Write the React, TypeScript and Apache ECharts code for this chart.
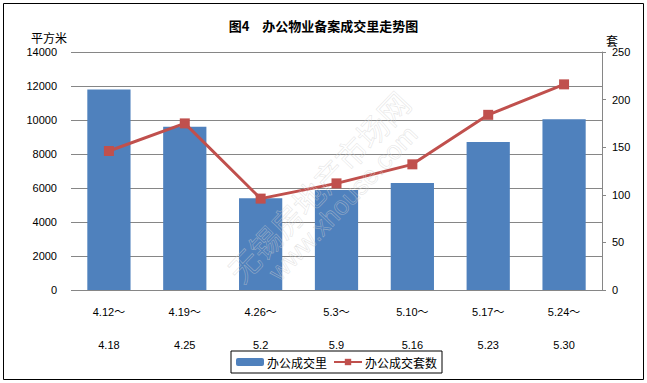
import React, { useEffect, useRef } from "react";
import * as echarts from "echarts";

const categories = ["4.12～\n4.18", "4.19～\n4.25", "4.26～\n5.2", "5.3～\n5.9", "5.10～\n5.16", "5.17～\n5.23", "5.24～\n5.30"];
const areaValues = [11800, 9600, 5400, 5880, 6300, 8700, 10050];
const countValues = [146, 175, 96, 112, 132, 184, 216];
const leftTicks = { min: 0, max: 14000, interval: 2000 };
const rightTicks = { min: 0, max: 250, interval: 50 };

const CJK = '"Noto Sans CJK SC", "Noto Sans", sans-serif';
const NUM = '"Liberation Sans", "Noto Sans CJK SC", sans-serif';

export default function App() {
  const ref = useRef<HTMLDivElement>(null);
  useEffect(() => {
    if (!ref.current) return;
    const chart = echarts.init(ref.current, null, { renderer: "svg" });
    chart.setOption({
      animation: false,
      backgroundColor: "#fff",
      title: {
        text: "图4　办公物业备案成交里走势图",
        left: "center",
        top: 14,
        textStyle: { fontFamily: CJK, fontSize: 13, fontWeight: "bold", color: "#000" },
      },
      grid: { left: 71, right: 45, top: 52, bottom: 93 },
      legend: {
        left: 231,
        top: 351,
        padding: [5, 5],
        itemGap: 6,
        itemWidth: 28,
        itemHeight: 8,
        borderColor: "#000",
        borderWidth: 1,
        textStyle: { fontFamily: CJK, fontSize: 12, color: "#000", padding: [0, 0, 0, -2] },
        data: ["办公成交里", "办公成交套数"],
      },
      graphic: [
        { type: "rect", shape: { x: 3.5, y: 3.5, width: 640, height: 376 }, style: { fill: "none", stroke: "#000", lineWidth: 1 }, silent: true, z: 100 },
        { type: "text", x: 49, y: 37, style: { text: "平方米", fontFamily: CJK, fontSize: 12, fill: "#000", align: "center", verticalAlign: "middle" } },
        { type: "text", x: 612, y: 40, style: { text: "套", fontFamily: CJK, fontSize: 12, fill: "#000", align: "center", verticalAlign: "middle" } },
        { type: "text", x: 318, y: 186, rotation: 0.81, z: 50, silent: true, style: { text: "无锡房地产市场网", fontFamily: CJK, fontSize: 31, fill: "transparent", stroke: "#d0d0d0", lineWidth: 0.6, opacity: 0.55, align: "center", verticalAlign: "middle" } },
        { type: "text", x: 343, y: 203, rotation: 0.81, z: 50, silent: true, style: { text: "www.xhouse.com", fontFamily: NUM, fontSize: 26, fill: "transparent", stroke: "#d0d0d0", lineWidth: 0.6, opacity: 0.55, align: "center", verticalAlign: "middle" } },
      ],
      xAxis: {
        type: "category",
        data: categories,
        axisLine: { show: false },
        axisTick: { show: false },
        axisLabel: { interval: 0, margin: 5, lineHeight: 33, fontFamily: NUM, fontSize: 11, color: "#000" },
      },
      yAxis: [
        {
          type: "value",
          min: leftTicks.min,
          max: leftTicks.max,
          interval: leftTicks.interval,
          axisLine: { show: false },
          axisTick: { show: false },
          axisLabel: { margin: 14, fontFamily: NUM, fontSize: 11, color: "#000", formatter: (v: number) => String(v) },
          splitLine: { show: true, lineStyle: { color: "#868686", width: 1 } },
        },
        {
          type: "value",
          position: "right",
          min: rightTicks.min,
          max: rightTicks.max,
          interval: rightTicks.interval,
          axisLine: { show: true, lineStyle: { color: "#868686" } },
          axisTick: { show: true, inside: false, length: 4, lineStyle: { color: "#868686" } },
          axisLabel: { margin: 10, fontFamily: NUM, fontSize: 11, color: "#000", formatter: (v: number) => String(v) },
          splitLine: { show: false },
        },
      ],
      series: [
        {
          name: "办公成交里",
          type: "bar",
          data: areaValues,
          barWidth: "57%",
          itemStyle: { color: "#4F81BD" },
          yAxisIndex: 0,
        },
        {
          name: "办公成交套数",
          type: "line",
          data: countValues,
          yAxisIndex: 1,
          symbol: "rect",
          symbolSize: 10,
          lineStyle: { color: "#C0504D", width: 3 },
          itemStyle: { color: "#C0504D" },
        },
      ],
    });
    return () => chart.dispose();
  }, []);
  return <div ref={ref} style={{ position: "fixed", left: 0, top: 0, width: 647, height: 383 }} />;
}
